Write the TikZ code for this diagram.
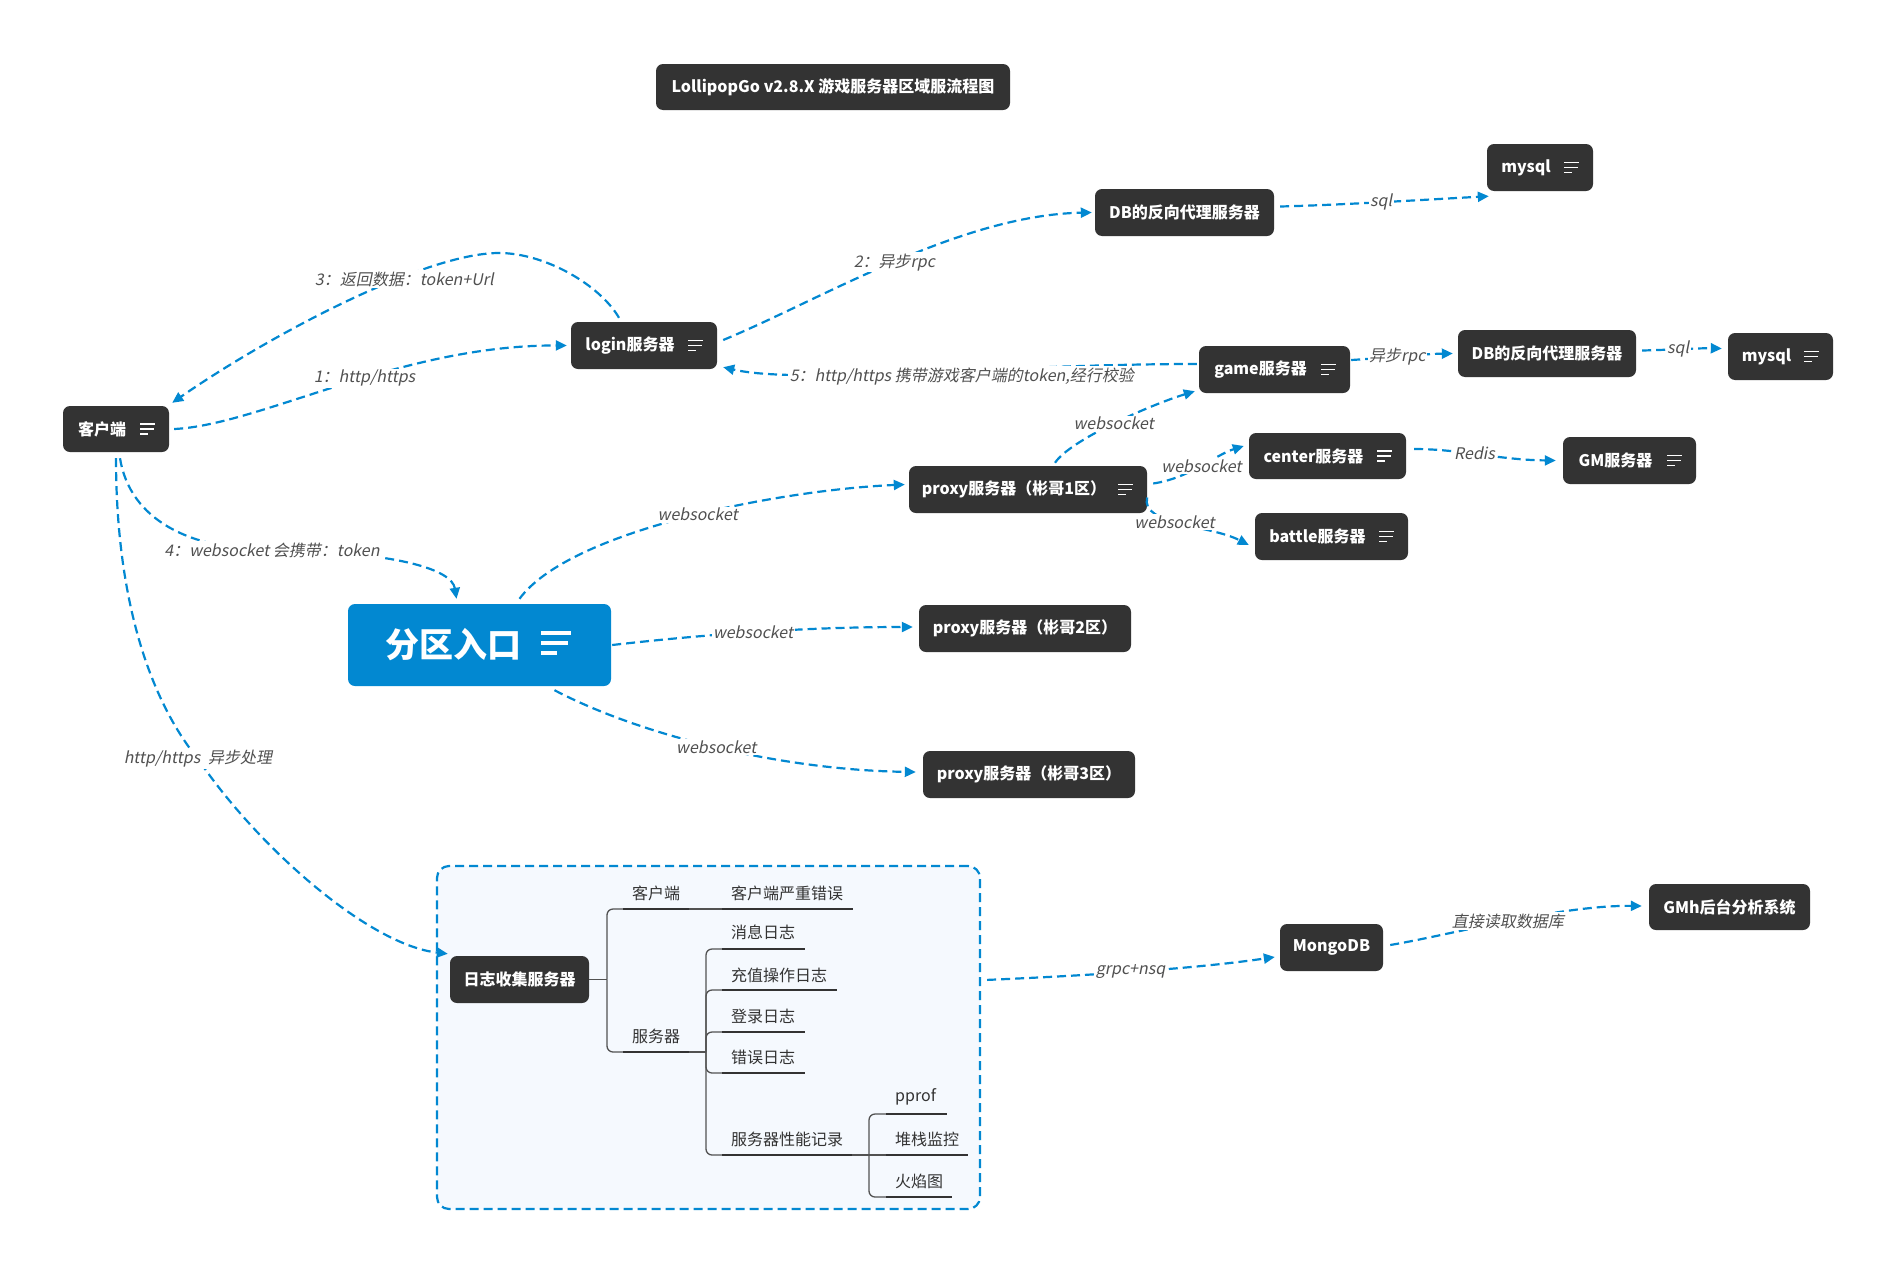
\documentclass[tikz,border=0pt]{standalone}
\usepackage{fontspec}
\setmainfont{Noto Sans CJK SC}
\newfontfamily\lblfont[FakeSlant=0.2]{Noto Sans CJK SC}
\usetikzlibrary{arrows.meta}
\definecolor{boxc}{HTML}{333333}
\definecolor{flow}{HTML}{0288D1}
\definecolor{lbl}{HTML}{505050}
\definecolor{treec}{HTML}{333333}
\definecolor{zonefill}{HTML}{F5F9FE}

\begin{document}
\begin{tikzpicture}[x=1pt,y=-1pt,
  box/.style={fill=boxc, rounded corners=7pt, text=white, inner sep=0pt,
    font=\fontsize{16}{19}\selectfont\bfseries, minimum height=47pt},
  menubox/.style={box, path picture={
    \draw[white, line width=1.9pt]
      ([xshift=-29pt,yshift=5pt]path picture bounding box.east) -- ++(15pt,0pt)
      ([xshift=-29pt]path picture bounding box.east) -- ++(14pt,0pt)
      ([xshift=-29pt,yshift=-5pt]path picture bounding box.east) -- ++(8pt,0pt);}},
  bigmenu/.style={path picture={
    \draw[white, line width=3.4pt]
      ([xshift=-70pt,yshift=12pt]path picture bounding box.east) -- ++(30pt,0pt)
      ([xshift=-70pt,yshift=2pt]path picture bounding box.east) -- ++(27pt,0pt)
      ([xshift=-70pt,yshift=-8pt]path picture bounding box.east) -- ++(16pt,0pt);}},
  flowline/.style={draw=flow, line width=2.2pt, dash pattern=on 9pt off 5pt,
    -{Triangle[length=11pt,width=10pt]}},
  flowlabel/.style={fill=white, text=lbl, inner sep=1.5pt,
    font=\lblfont\fontsize{16}{19}\selectfont},
  leaf/.style={anchor=west, text=treec, inner sep=0pt, font=\fontsize{16}{19}\selectfont},
  twig/.style={draw=treec!85, line width=1.3pt, rounded corners=6pt},
  under/.style={draw=treec, line width=1.8pt},
]
\fill[white] (0,0) rectangle (1897,1285);
\useasboundingbox (0,0) rectangle (1897,1285);

% ---------- log collection zone ----------
\node[draw=flow, line width=2.2pt, dash pattern=on 9pt off 5pt, fill=zonefill,
  rounded corners=12pt, minimum width=543pt, minimum height=343pt, inner sep=0pt]
  (zone) at (708.5,1037.5) {};

% ---------- topics ----------
\node[box, minimum width=354pt, minimum height=46pt] (title) at (833,87)
  {LollipopGo v2.8.X 游戏服务器区域服流程图};
\node[menubox, minimum width=106pt, minimum height=46pt] (client) at (116,429) {客户端\hspace*{28pt}};
\node[menubox, minimum width=146pt] (login) at (644,345.5) {login服务器\hspace*{28pt}};
\node[box, minimum width=179pt] (db1) at (1184.5,212.5) {DB的反向代理服务器};
\node[menubox, minimum width=106pt] (mysql1) at (1540,167.5) {mysql\hspace*{28pt}};
\node[menubox, minimum width=151pt] (game) at (1274.5,369.5) {game服务器\hspace*{28pt}};
\node[box, minimum width=178pt] (db2) at (1547,353.5) {DB的反向代理服务器};
\node[menubox, minimum width=105pt] (mysql2) at (1780.5,356.5) {mysql\hspace*{28pt}};
\node[menubox, minimum width=157pt, minimum height=46pt] (center) at (1327.5,456) {center服务器\hspace*{28pt}};
\node[menubox, minimum width=133pt] (gm) at (1629.5,460.5) {GM服务器\hspace*{28pt}};
\node[menubox, minimum width=238pt] (proxy1) at (1028,489.5) {proxy服务器（彬哥1区）\hspace*{28pt}};
\node[menubox, minimum width=153pt] (battle) at (1331.5,536.5) {battle服务器\hspace*{28pt}};
\node[box, bigmenu, fill=flow, minimum width=263pt, minimum height=82pt,
  font=\fontsize{34}{40}\selectfont\bfseries] (entry) at (479.5,645) {分区入口\hspace*{53pt}};
\node[box, minimum width=212pt] (proxy2) at (1025,628.5) {proxy服务器（彬哥2区）};
\node[box, minimum width=212pt] (proxy3) at (1029,774.5) {proxy服务器（彬哥3区）};
\node[box, minimum width=139pt] (logsrv) at (519.5,979.5) {日志收集服务器};
\node[box, minimum width=103pt] (mongo) at (1331.5,947.5) {MongoDB};
\node[box, minimum width=161pt, minimum height=46pt] (gmh) at (1729.5,907) {GMh后台分析系统};

% ---------- log tree ----------
\draw[twig] (logsrv.east) -- (607,979.5);
\draw[twig] (607,979.5) -- (607,909) -- (623,909);
\draw[twig] (607,979.5) -- (607,1052) -- (623,1052);
\draw[under] (623,909) -- (689,909);
\draw[twig] (689,909) -- (722,909);
\draw[under] (722,909) -- (853,909);
\draw[under] (623,1052) -- (689,1052);
\draw[twig] (689,1052) -- (706,1052);
\draw[twig] (706,1052) -- (706,949) -- (722,949);
\draw[twig] (706,1052) -- (706,990) -- (722,990);
\draw[twig] (706,1052) -- (706,1032) -- (722,1032);
\draw[twig] (706,1052) -- (706,1073) -- (722,1073);
\draw[twig] (706,1052) -- (706,1155) -- (722,1155);
\draw[under] (722,949) -- (805,949);
\draw[under] (722,990) -- (837,990);
\draw[under] (722,1032) -- (805,1032);
\draw[under] (722,1073) -- (805,1073);
\draw[under] (722,1155) -- (852,1155);
\draw[twig] (852,1155) -- (869,1155);
\draw[twig] (869,1155) -- (869,1114) -- (886,1114);
\draw[twig] (869,1155) -- (869,1197) -- (886,1197);
\draw[twig] (869,1155) -- (886,1155);
\draw[under] (886,1114) -- (947,1114);
\draw[under] (886,1155) -- (968,1155);
\draw[under] (886,1197) -- (952,1197);

\node[leaf] (t-client) at (632,893) {客户端};
\node[leaf] (t-server) at (632,1036) {服务器};
\node[leaf] (t-crash) at (731,893) {客户端严重错误};
\node[leaf] (t-msg) at (731,932) {消息日志};
\node[leaf] (t-pay) at (731,975) {充值操作日志};
\node[leaf] (t-login) at (731,1016) {登录日志};
\node[leaf] (t-err) at (731,1057) {错误日志};
\node[leaf] (t-perf) at (731,1139) {服务器性能记录};
\node[leaf] (t-pprof) at (895,1097) {pprof};
\node[leaf] (t-stack) at (895,1139) {堆栈监控};
\node[leaf] (t-flame) at (895,1181) {火焰图};

% ---------- flows ----------
\draw[flowline] ([xshift=5pt]client.east) .. controls (260,425) and (400,345) ..
  ([xshift=-4pt]login.west) node[flowlabel, pos=0.56] {1：http/https};
\draw[flowline] ([xshift=-25pt,yshift=4pt]login.north) .. controls (600,285) and (545,253) ..
  (499,253) .. controls (425,253) and (270,335) ..
  ([xshift=3pt,yshift=3pt]client.north east) node[flowlabel, pos=0.33, yshift=-3pt] {3：返回数据：token+Url};
\draw[flowline] ([xshift=6pt,yshift=5.5pt]login.east) .. controls (820,300) and (960,215) ..
  ([xshift=-3pt]db1.west) node[flowlabel, pos=0.5] {2：异步rpc};
\draw[flowline] ([xshift=6pt,yshift=6pt]db1.east) .. controls (1340,205) and (1420,200) ..
  ([xshift=2pt,yshift=-5pt]mysql1.south west) node[flowlabel, pos=0.5] {sql};
\draw[flowline] ([xshift=-2pt,yshift=5.5pt]game.west) .. controls (1000,364) and (800,385) ..
  ([xshift=6pt,yshift=2pt]login.south east)
  node[flowlabel, pos=0.41, yshift=-6pt] {5：http/https 携带游戏客户端的token,经行校验};
\draw[flowline] ([xshift=1pt,yshift=9.5pt]game.east) .. controls (1385,358) and (1420,354) ..
  ([xshift=-5pt]db2.west) node[flowlabel, pos=0.45] {异步rpc};
\draw[flowline] ([xshift=6pt,yshift=3pt]db2.east) .. controls (1665,350) and (1700,348) ..
  ([xshift=-6pt,yshift=8pt]mysql2.west) node[flowlabel, pos=0.45] {sql};
\draw[flowline] ([xshift=27pt,yshift=3pt]proxy1.north) .. controls (1070,440) and (1150,405) ..
  ([xshift=-4pt,yshift=2pt]game.south west) node[flowlabel, pos=0.5] {websocket};
\draw[flowline] ([xshift=6pt,yshift=6pt]proxy1.east) .. controls (1190,478) and (1215,455) ..
  ([xshift=-5pt,yshift=10pt]center.west) node[flowlabel, pos=0.5] {websocket};
\draw[flowline] ([yshift=-8pt]proxy1.east) .. controls (1140,525) and (1210,525) ..
  ([xshift=-6pt,yshift=-8.5pt]battle.west) node[flowlabel, pos=0.45] {websocket};
\draw[flowline] ([xshift=8pt,yshift=7pt]center.east) .. controls (1460,449) and (1500,460) ..
  ([xshift=-7pt]gm.west) node[flowlabel, pos=0.45] {Redis};
\draw[flowline] ([xshift=4pt,yshift=-6pt]client.south) .. controls (130,520) and (190,550) ..
  (272,550) node[flowlabel] {4：websocket 会携带：token}
  .. controls (400,552) and (452,570) .. ([xshift=-23pt,yshift=5pt]entry.north);
\draw[flowline] ([xshift=40pt,yshift=5pt]entry.north) .. controls (570,530) and (780,490) ..
  ([xshift=-4pt,yshift=5pt]proxy1.west) node[flowlabel, pos=0.53] {websocket};
\draw[flowline] ([xshift=1pt]entry.east) .. controls (700,635) and (800,627) ..
  ([xshift=-6pt,yshift=1.5pt]proxy2.west) node[flowlabel, pos=0.5] {websocket};
\draw[flowline] ([xshift=75pt,yshift=-4pt]entry.south) .. controls (640,735) and (780,770) ..
  ([xshift=-7pt,yshift=2.5pt]proxy3.west) node[flowlabel, pos=0.5] {websocket};
\draw[flowline] ([yshift=-6pt]client.south) .. controls (116,600) and (150,700) ..
  (198,759) node[flowlabel] {http/https\enspace 异步处理}
  .. controls (260,850) and (370,945) .. ([xshift=-2pt,yshift=2pt]logsrv.north west);
\draw[flowline] ([xshift=6pt,yshift=-115pt]zone.north east) .. controls (1100,975) and (1200,968) ..
  ([xshift=-5pt,yshift=-9.5pt]mongo.west) node[flowlabel, pos=0.45] {grpc+nsq};
\draw[flowline] ([xshift=7pt,yshift=2.5pt]mongo.east) .. controls (1450,935) and (1560,905) ..
  ([xshift=-7pt,yshift=1pt]gmh.west) node[flowlabel, pos=0.5] {直接读取数据库};
\end{tikzpicture}
\end{document}
